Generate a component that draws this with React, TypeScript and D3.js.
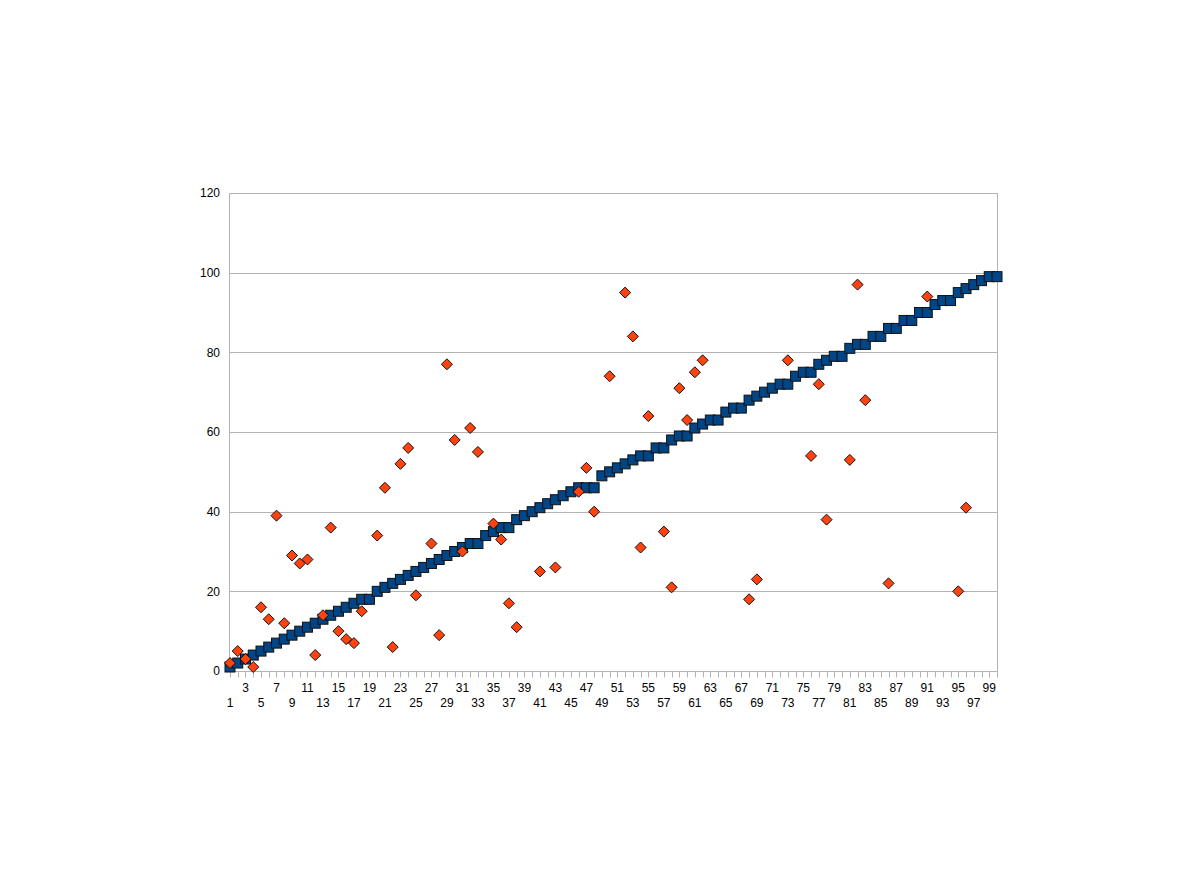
import React from 'react';
import * as d3 from 'd3';

const categories: number[] = Array.from({ length: 100 }, (_, i) => i + 1);

const seriesBlue: number[] = [
  1, 2, 3, 4, 5, 6, 7, 8, 9, 10,
  11, 12, 13, 14, 15, 16, 17, 18, 18, 20,
  21, 22, 23, 24, 25, 26, 27, 28, 29, 30,
  31, 32, 32, 34, 35, 36, 36, 38, 39, 40,
  41, 42, 43, 44, 45, 46, 46, 46, 49, 50,
  51, 52, 53, 54, 54, 56, 56, 58, 59, 59,
  61, 62, 63, 63, 65, 66, 66, 68, 69, 70,
  71, 72, 72, 74, 75, 75, 77, 78, 79, 79,
  81, 82, 82, 84, 84, 86, 86, 88, 88, 90,
  90, 92, 93, 93, 95, 96, 97, 98, 99, 99,
];

const seriesOrange: (number | null)[] = [
  2, 5, 3, 1, 16, 13, 39, 12, 29, 27,
  28, 4, 14, 36, 10, 8, 7, 15, null, 34,
  46, 6, 52, 56, 19, null, 32, 9, 77, 58,
  30, 61, 55, null, 37, 33, 17, 11, null, null,
  25, null, 26, null, null, 45, 51, 40, null, 74,
  null, 95, 84, 31, 64, null, 35, 21, 71, 63,
  75, 78, null, null, null, null, null, 18, 23, null,
  null, null, 78, null, null, 54, 72, 38, null, null,
  53, 97, 68, null, null, 22, null, null, null, null,
  94, null, null, null, 20, 41, null, null, null, null,
];

const yTicks: number[] = [0, 20, 40, 60, 80, 100, 120];
const xLabels: number[] = categories.filter((c) => c % 2 === 1);

const FONT = '"Liberation Sans", Arial, sans-serif';

export default function App() {
  const x = d3.scaleLinear().domain([1, 100]).range([230, 997]);
  const y = d3.scaleLinear().domain([0, 120]).range([671, 193]);
  const crisp = (v: number) => Math.round(v) + 0.5;

  const diamond = (cx: number, cy: number, r: number) =>
    `M${cx},${cy - r}L${cx + r},${cy}L${cx},${cy + r}L${cx - r},${cy}Z`;

  return (
    <svg
      width={1191}
      height={893}
      style={{ position: 'absolute', left: 0, top: 0, background: '#fff' }}
    >
      <rect x={0} y={0} width={1191} height={893} fill="#fff" />
      {/* gridlines */}
      {yTicks.map((t) => (
        <line
          key={'g' + t}
          x1={x(1)}
          x2={x(100)}
          y1={crisp(y(t))}
          y2={crisp(y(t))}
          stroke="#b3b3b3"
          strokeWidth={1}
        />
      ))}
      {/* y axis and right border */}
      <line x1={crisp(x(1)) - 1} x2={crisp(x(1)) - 1} y1={y(120)} y2={y(0) + 1} stroke="#b3b3b3" />
      <line x1={crisp(x(100))} x2={crisp(x(100))} y1={y(120)} y2={y(0) + 1} stroke="#b3b3b3" />
      {/* x ticks */}
      {categories.map((c) => (
        <line
          key={'t' + c}
          x1={crisp(x(c))}
          x2={crisp(x(c))}
          y1={crisp(y(0))}
          y2={crisp(y(0)) + 6}
          stroke="#b3b3b3"
        />
      ))}
      {/* y labels */}
      {yTicks.map((t) => (
        <text
          key={'yl' + t}
          x={220}
          y={y(t)}
          dy="0.35em"
          textAnchor="end"
          fontFamily={FONT}
          fontSize={12}
          fill="#000"
        >
          {t}
        </text>
      ))}
      {/* x labels, staggered */}
      {xLabels.map((c) => {
        const k = (c - 1) / 2;
        const row = k % 2 === 0 ? 703 : 688;
        return (
          <text
            key={'xl' + c}
            x={x(c)}
            y={row}
            dy="0.35em"
            textAnchor="middle"
            fontFamily={FONT}
            fontSize={12}
            fill="#000"
          >
            {c}
          </text>
        );
      })}
      {/* blue squares */}
      {seriesBlue.map((v, i) => (
        <rect
          key={'b' + i}
          x={x(categories[i]) - 5}
          y={y(v) - 5}
          width={10}
          height={10}
          fill="#004586"
          stroke="#111"
          strokeWidth={1}
        />
      ))}
      {/* orange diamonds */}
      {seriesOrange.map((v, i) =>
        v === null ? null : (
          <path
            key={'o' + i}
            d={diamond(x(categories[i]), y(v), 5.5)}
            fill="#ff420e"
            stroke="#111"
            strokeWidth={1}
          />
        )
      )}
    </svg>
  );
}
